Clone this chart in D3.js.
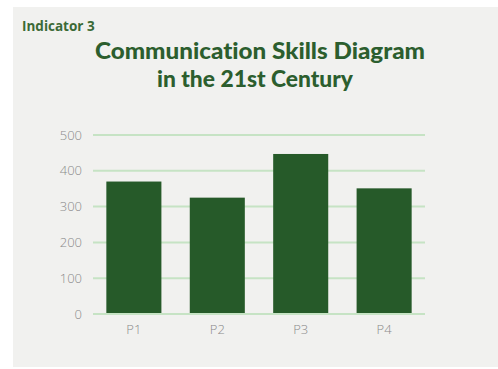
<!DOCTYPE html>
<html>
<head>
<meta charset="utf-8">
<script src="https://cdn.jsdelivr.net/npm/d3@7"></script>
<style>
  body { margin: 0; background: #ffffff; }
  svg { display: block; }
</style>
</head>
<body>
<div id="chart"></div>
<script>
var categories = ['P1', 'P2', 'P3', 'P4'];
var values = [370, 325, 447, 351];
var y_ticks = [0, 100, 200, 300, 400, 500];

var width = 498, height = 369;

var svg = d3.select('#chart').append('svg')
  .attr('width', width)
  .attr('height', height);

// paper background
svg.append('rect')
  .attr('x', 13).attr('y', 7)
  .attr('width', width - 13).attr('height', 360)
  .style('fill', '#f1f1ef');

svg.append('text')
  .attr('x', 22).attr('y', 31)
  .text('Indicator 3')
  .style('font-family', 'Open Sans')
  .style('font-weight', 'bold')
  .style('font-size', '13.5px')
  .style('fill', '#3b6a36');

var title = svg.append('g')
  .style('font-family', 'Lato')
  .style('font-weight', 900)
  .style('font-size', '23px')
  .style('font-variant-ligatures', 'none')
  .style('fill', '#2c5e2e')
  .style('text-anchor', 'middle');

title.append('text').attr('x', 260).attr('y', 59).attr('textLength', 330)
  .attr('lengthAdjust', 'spacingAndGlyphs')
  .text('Communication Skills Diagram');
title.append('text').attr('x', 255).attr('y', 87).attr('textLength', 196)
  .attr('lengthAdjust', 'spacingAndGlyphs')
  .text('in the 21st Century');

var x = d3.scaleBand()
  .domain(categories)
  .range([93, 425])
  .paddingInner(0.34)
  .paddingOuter(0.16);

var y = d3.scaleLinear()
  .domain([0, 500])
  .range([314, 135]);

// grid
svg.append('g')
  .selectAll('line')
  .data(y_ticks)
  .enter().append('line')
  .attr('x1', 93).attr('x2', 425)
  .attr('y1', function(d) { return y(d); })
  .attr('y2', function(d) { return y(d); })
  .style('stroke', '#c6e3c4')
  .style('stroke-width', 2);

svg.append('g')
  .selectAll('rect')
  .data(values)
  .enter().append('rect')
  .attr('x', function(d, i) { return x(categories[i]); })
  .attr('y', function(d) { return y(d); })
  .attr('width', x.bandwidth())
  .attr('height', function(d) { return y(0) - y(d) - 1; })
  .style('fill', '#265a29');

var y_axis = svg.append('g')
  .attr('transform', 'translate(82,0)')
  .call(d3.axisLeft(y).tickValues(y_ticks).tickSize(0).tickPadding(0));

var x_axis = svg.append('g')
  .attr('transform', 'translate(0,325)')
  .call(d3.axisBottom(x).tickSize(0).tickPadding(0));

[y_axis, x_axis].forEach(function(a) {
  a.select('.domain').remove();
  a.selectAll('text')
    .style('font-family', 'Open Sans')
    .style('font-weight', 300)
    .style('font-size', '13px')
    .style('fill', '#8a8a8a');
});
</script>
</body>
</html>
